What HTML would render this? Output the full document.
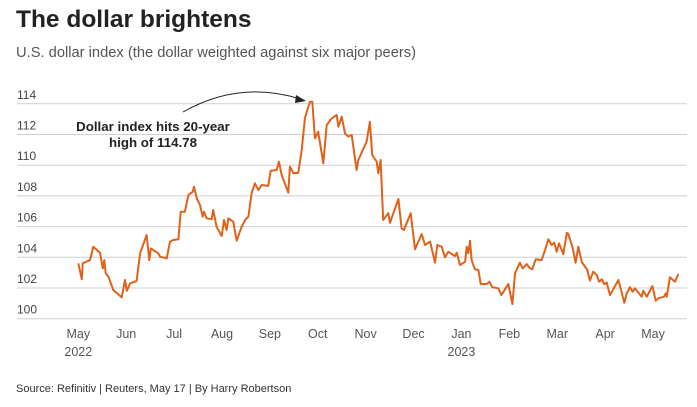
<!DOCTYPE html>
<html><head><meta charset="utf-8">
<style>
body{margin:0;background:#fff;width:697px;height:402px;overflow:hidden;font-family:"Liberation Sans",sans-serif}
</style></head>
<body>
<svg id="chart" width="697" height="402" viewBox="0 0 697 402" xmlns="http://www.w3.org/2000/svg">
<text x="16" y="27" font-size="24.5" font-weight="bold" fill="#222">The dollar brightens</text>
<text x="16" y="57" font-size="14.7" fill="#555">U.S. dollar index (the dollar weighted against six major peers)</text>
<g id="grid"></g>
<g id="xlabels"></g>
<path id="line" fill="none" stroke="#e0621a" stroke-width="2" stroke-linejoin="round"/>
<path d="M183,112 Q240,80 300,99" fill="none" stroke="#222" stroke-width="1"/>
<polygon points="306,101 296,95 295,103" fill="#222"/>
<text x="153" y="131" font-size="13.3" font-weight="bold" fill="#222" text-anchor="middle">Dollar index hits 20-year</text>
<text x="153" y="147" font-size="13.3" font-weight="bold" fill="#222" text-anchor="middle">high of 114.78</text>
<text x="16" y="392" font-size="11" fill="#333">Source: Refinitiv | Reuters, May 17 | By Harry Robertson</text>
</svg>
<script>
const yTicks=[100,102,104,106,108,110,112,114];
const monthLabels=["May","Jun","Jul","Aug","Sep","Oct","Nov","Dec","Jan","Feb","Mar","Apr","May"];
const yearLabels=["2022","","","","","","","","2023","","","",""];
const days=[0,2.1,2.7,7.1,9.1,13.2,14.9,15.8,16.7,18.3,21.3,26.4,28.4,29.5,31.5,35.5,37.6,41.6,43.2,44.1,48.7,49.7,53.8,55.8,57.8,60.9,62.3,64.9,67,69.6,70.4,72.1,74.1,75.7,76.5,78.1,81.2,82.1,84.2,87.3,88.7,90.3,91.3,94.3,96.4,99.4,101.5,103.5,105.5,107.5,109.6,111.6,115.6,117.1,120.7,122.1,123.8,127.8,128.8,130.9,133.9,136,137.9,140,141,142.4,144,146,149.1,151.2,154.2,157.3,158.3,160.3,162.3,164.3,166.4,169.4,170.4,175.5,177.5,178.9,181.6,182.6,184,185.6,188.7,189.7,194.8,196.8,198.2,202.3,204.9,209,211,214.1,217.1,218.5,221.2,223.2,225.2,229.3,230.3,232.3,235.4,236.4,237.4,238.4,239.4,241.4,243.5,244.9,248.6,250.2,252,255.6,257.5,261.7,264.2,265.8,268.8,270.5,272.9,274.9,276.3,278.4,282,284.1,286.1,288.1,289.7,291.2,292.6,295.2,297.3,298.2,300.7,302.7,304.3,306.4,309.8,311.4,313.4,315.5,316.9,318.6,320,321.6,323.6,328.7,332.3,333.8,335.8,337.4,338.8,342.9,343.9,346,349.4,351.4,353,356.5,357.5,358.1,360.1,363.2,365.2];
const values=[103.61,102.57,103.61,103.82,104.69,104.30,103.28,103.82,102.96,102.74,101.87,101.39,102.52,101.82,102.30,102.46,104.26,105.45,103.82,104.58,104.26,104.04,103.93,105.02,105.13,105.17,106.97,106.97,108.06,108.27,108.60,107.84,107.41,106.65,106.97,106.54,106.48,107.08,105.99,105.39,106.43,105.78,106.54,106.32,105.08,105.99,106.43,106.65,108.17,108.82,108.38,108.71,108.65,109.64,109.69,110.23,109.36,108.21,109.90,109.47,109.51,110.99,113.05,113.81,114.14,114.14,111.75,112.18,110.12,112.62,113.05,113.27,112.51,113.16,112.08,111.86,111.97,109.69,110.34,111.53,112.83,110.66,110.23,109.47,110.34,106.43,106.87,106.25,107.80,105.89,105.78,106.87,104.52,105.52,104.80,105.02,103.65,104.80,104.69,104.00,104.36,104.08,104.30,103.50,103.71,104.69,104.26,105.08,103.82,103.22,103.17,102.26,102.26,102.41,102.05,101.98,101.54,102.26,100.96,102.96,103.65,103.28,103.56,103.28,103.22,103.87,103.82,104.48,105.17,104.80,104.95,104.36,104.91,104.21,105.60,105.52,104.69,103.65,104.69,103.71,103.17,102.48,103.06,102.85,102.41,102.57,102.26,102.35,101.54,102.52,101.04,101.65,102.05,101.76,101.98,101.43,101.82,101.43,102.13,101.17,101.33,101.43,101.65,101.43,102.70,102.41,102.91];
const x=d=>78.3+d*1.643;
const y=v=>318.7-(v-100)*15.35;
const NS="http://www.w3.org/2000/svg";
const grid=document.getElementById('grid');
yTicks.forEach(t=>{
  const l=document.createElementNS(NS,'line');
  
  
  l.setAttribute('x1',17);l.setAttribute('x2',687);
  l.setAttribute('y1',y(t));l.setAttribute('y2',y(t));
  l.setAttribute('stroke','#cfcfcf');l.setAttribute('stroke-width','1');
  grid.appendChild(l);
  const tx=document.createElementNS(NS,'text');
  
  
  tx.setAttribute('x',17);tx.setAttribute('y',y(t)-5);
  tx.setAttribute('font-size','12');tx.setAttribute('fill','#444');
  tx.textContent=t;grid.appendChild(tx);
});
const xl=document.getElementById('xlabels');
monthLabels.forEach((m,i)=>{
  const cx=x(i*29.15);
  const t=document.createElementNS(NS,'text');
  
  
  t.setAttribute('x',cx);t.setAttribute('y',338);
  t.setAttribute('text-anchor','middle');t.setAttribute('font-size','12.5');t.setAttribute('fill','#555');
  t.textContent=m;xl.appendChild(t);
  if(yearLabels[i]){
    const t2=document.createElementNS(NS,'text');
    
    
    t2.setAttribute('x',cx);t2.setAttribute('y',356);
    t2.setAttribute('text-anchor','middle');t2.setAttribute('font-size','12.5');t2.setAttribute('fill','#555');
    t2.textContent=yearLabels[i];xl.appendChild(t2);
  }
});
document.getElementById('line').setAttribute('d',days.map((d,i)=>(i?'L':'M')+x(d).toFixed(1)+','+y(values[i]).toFixed(1)).join(''));
</script>
</body></html>
